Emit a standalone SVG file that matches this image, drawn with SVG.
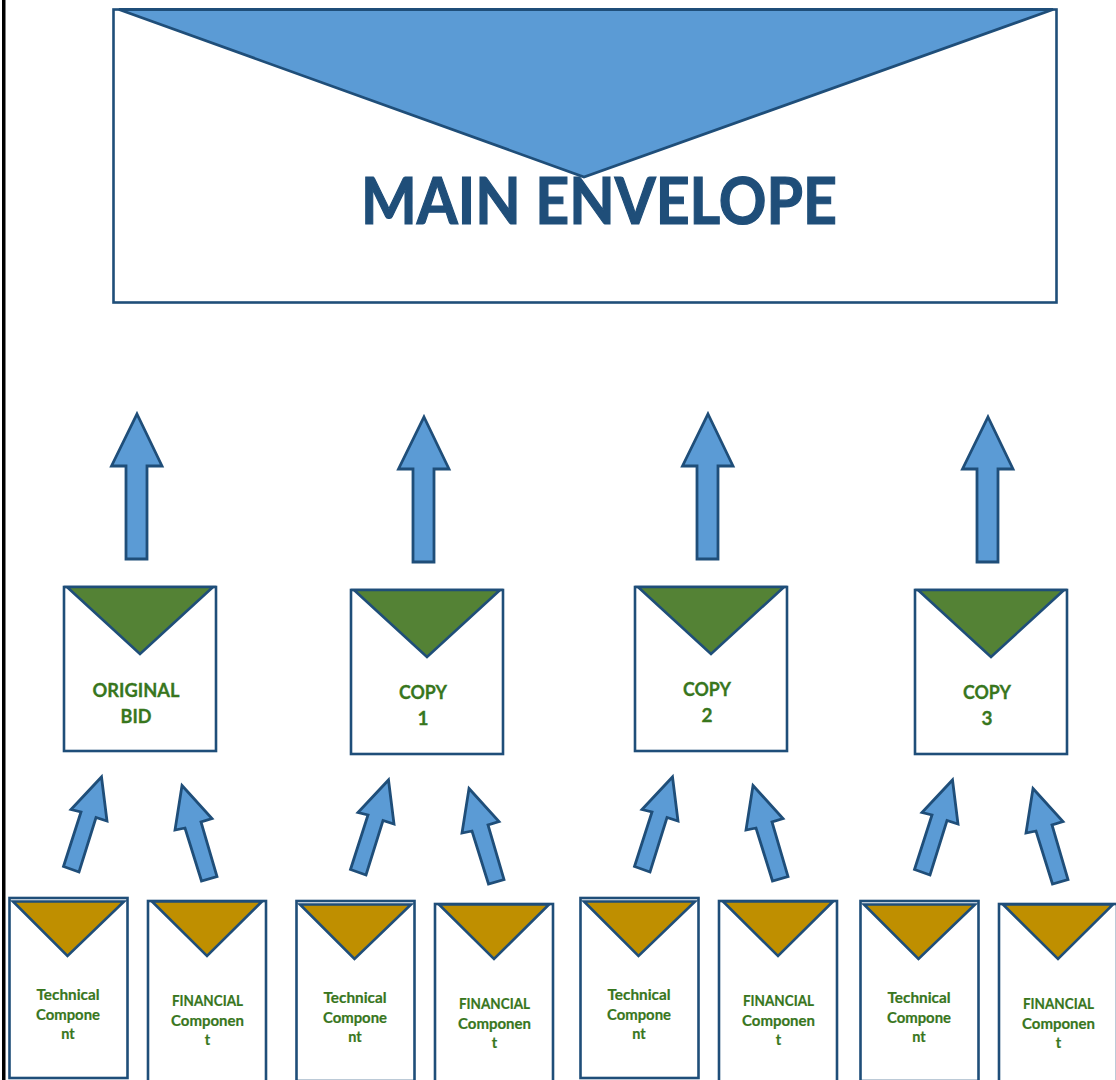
<svg xmlns="http://www.w3.org/2000/svg" width="1116" height="1080" viewBox="0 0 1116 1080">
<style>
.box{fill:#fff;stroke:#1f4e79;stroke-width:2.6}
.flap-b{fill:#5b9bd5;stroke:#1f4e79;stroke-width:2.8;stroke-linejoin:miter}
.flap-g{fill:#548235;stroke:#1f4e79;stroke-width:2.6}
.flap-y{fill:#bf8f00;stroke:#1f4e79;stroke-width:2.6}
.arrow{fill:#5b9bd5;stroke:#1f4e79;stroke-width:2.8;stroke-linejoin:miter}
text{font-family:Lato,"Noto Sans","Liberation Sans",sans-serif;font-weight:700;text-anchor:middle}
.t-main{fill:#1f4e79;stroke:#1f4e79;stroke-width:1.2;font-size:65px}
.t-mid{fill:#38761d;stroke:#38761d;stroke-width:.3;font-size:19px}
.t-small{fill:#38761d;stroke:#38761d;stroke-width:.2;font-size:14.500px}
</style>
<defs>
<path id="up" class="arrow" d="M137 414L162 466H147V559H126V466H111.500Z"/>
<path id="sl" class="arrow" d="M101.500 777L107 821L96 817.500L79 872L63.500 866.500L81 812L71 809.500Z"/>
<path id="sr" class="arrow" d="M182 785.500L212 818.500L201 822L217 876.500L201.500 881L185 828L175 830Z"/>
</defs>
<rect width="1116" height="1080" fill="#fff"/>
<rect id="left-border" x="2" y="0" width="3.500" height="1080" fill="#000"/>
<g id="connectors">
<use href="#up"/><use href="#up" x="287" y="3"/><use href="#up" x="571"/><use href="#up" x="851" y="3"/>
<use href="#sl"/><use href="#sr"/>
<use href="#sl" x="287" y="3"/><use href="#sr" x="287" y="3"/>
<use href="#sl" x="571"/><use href="#sr" x="571"/>
<use href="#sl" x="851" y="3"/><use href="#sr" x="851" y="3"/>
</g>
<g id="main-envelope">
<rect class="box" x="113.500" y="9.500" width="943" height="293"/>
<path class="flap-b" d="M119 9.500H1053L584 177Z"/>
<text class="t-main" x="599" y="224" textLength="476" lengthAdjust="spacingAndGlyphs">MAIN ENVELOPE</text>
</g>
<g id="original-bid">
<rect class="box" x="64" y="587" width="152" height="164"/>
<path class="flap-g" d="M67 587H213L140 654Z"/>
<text class="t-mid" x="136" y="697" textLength="87" lengthAdjust="spacingAndGlyphs">ORIGINAL</text>
<text class="t-mid" x="136" y="723" textLength="31" lengthAdjust="spacingAndGlyphs">BID</text>
</g>
<g id="copy-1" transform="translate(287 3)">
<rect class="box" x="64" y="587" width="152" height="164"/>
<path class="flap-g" d="M67 587H213L140 654Z"/>
<text class="t-mid" x="136" y="696" textLength="48" lengthAdjust="spacingAndGlyphs">COPY</text>
<text class="t-mid" x="136" y="722">1</text>
</g>
<g id="copy-2" transform="translate(571 0)">
<rect class="box" x="64" y="587" width="152" height="164"/>
<path class="flap-g" d="M67 587H213L140 654Z"/>
<text class="t-mid" x="136" y="696" textLength="48" lengthAdjust="spacingAndGlyphs">COPY</text>
<text class="t-mid" x="136" y="722">2</text>
</g>
<g id="copy-3" transform="translate(851 3)">
<rect class="box" x="64" y="587" width="152" height="164"/>
<path class="flap-g" d="M67 587H213L140 654Z"/>
<text class="t-mid" x="136" y="696" textLength="48" lengthAdjust="spacingAndGlyphs">COPY</text>
<text class="t-mid" x="136" y="722">3</text>
</g>
<g id="tech-1">
<rect class="box" x="9.500" y="898" width="118" height="180"/>
<path class="flap-y" d="M13 901.500H124L67.500 956Z"/>
<text class="t-small" x="68" y="1000" textLength="63" lengthAdjust="spacingAndGlyphs">Technical</text>
<text class="t-small" x="68" y="1020" textLength="64" lengthAdjust="spacingAndGlyphs">Compone</text>
<text class="t-small" x="68" y="1039">nt</text>
</g>
<g id="fin-1">
<rect class="box" x="148" y="901" width="118" height="190"/>
<path class="flap-y" d="M152 901.500H262L207 956Z"/>
<text class="t-small" x="207.500" y="1006" textLength="71" lengthAdjust="spacingAndGlyphs">FINANCIAL</text>
<text class="t-small" x="207.500" y="1026" textLength="73" lengthAdjust="spacingAndGlyphs">Componen</text>
<text class="t-small" x="207.500" y="1045">t</text>
</g>
<g id="tech-2" transform="translate(287 3)">
<rect class="box" x="9.500" y="898" width="118" height="180"/>
<path class="flap-y" d="M13 901.500H124L67.500 956Z"/>
<text class="t-small" x="68" y="1000" textLength="63" lengthAdjust="spacingAndGlyphs">Technical</text>
<text class="t-small" x="68" y="1020" textLength="64" lengthAdjust="spacingAndGlyphs">Compone</text>
<text class="t-small" x="68" y="1039">nt</text>
</g>
<g id="fin-2" transform="translate(287 3)">
<rect class="box" x="148" y="901" width="118" height="190"/>
<path class="flap-y" d="M152 901.500H262L207 956Z"/>
<text class="t-small" x="207.500" y="1006" textLength="71" lengthAdjust="spacingAndGlyphs">FINANCIAL</text>
<text class="t-small" x="207.500" y="1026" textLength="73" lengthAdjust="spacingAndGlyphs">Componen</text>
<text class="t-small" x="207.500" y="1045">t</text>
</g>
<g id="tech-3" transform="translate(571 0)">
<rect class="box" x="9.500" y="898" width="118" height="180"/>
<path class="flap-y" d="M13 901.500H124L67.500 956Z"/>
<text class="t-small" x="68" y="1000" textLength="63" lengthAdjust="spacingAndGlyphs">Technical</text>
<text class="t-small" x="68" y="1020" textLength="64" lengthAdjust="spacingAndGlyphs">Compone</text>
<text class="t-small" x="68" y="1039">nt</text>
</g>
<g id="fin-3" transform="translate(571 0)">
<rect class="box" x="148" y="901" width="118" height="190"/>
<path class="flap-y" d="M152 901.500H262L207 956Z"/>
<text class="t-small" x="207.500" y="1006" textLength="71" lengthAdjust="spacingAndGlyphs">FINANCIAL</text>
<text class="t-small" x="207.500" y="1026" textLength="73" lengthAdjust="spacingAndGlyphs">Componen</text>
<text class="t-small" x="207.500" y="1045">t</text>
</g>
<g id="tech-4" transform="translate(851 3)">
<rect class="box" x="9.500" y="898" width="118" height="180"/>
<path class="flap-y" d="M13 901.500H124L67.500 956Z"/>
<text class="t-small" x="68" y="1000" textLength="63" lengthAdjust="spacingAndGlyphs">Technical</text>
<text class="t-small" x="68" y="1020" textLength="64" lengthAdjust="spacingAndGlyphs">Compone</text>
<text class="t-small" x="68" y="1039">nt</text>
</g>
<g id="fin-4" transform="translate(851 3)">
<rect class="box" x="148" y="901" width="118" height="190"/>
<path class="flap-y" d="M152 901.500H262L207 956Z"/>
<text class="t-small" x="207.500" y="1006" textLength="71" lengthAdjust="spacingAndGlyphs">FINANCIAL</text>
<text class="t-small" x="207.500" y="1026" textLength="73" lengthAdjust="spacingAndGlyphs">Componen</text>
<text class="t-small" x="207.500" y="1045">t</text>
</g>
</svg>
